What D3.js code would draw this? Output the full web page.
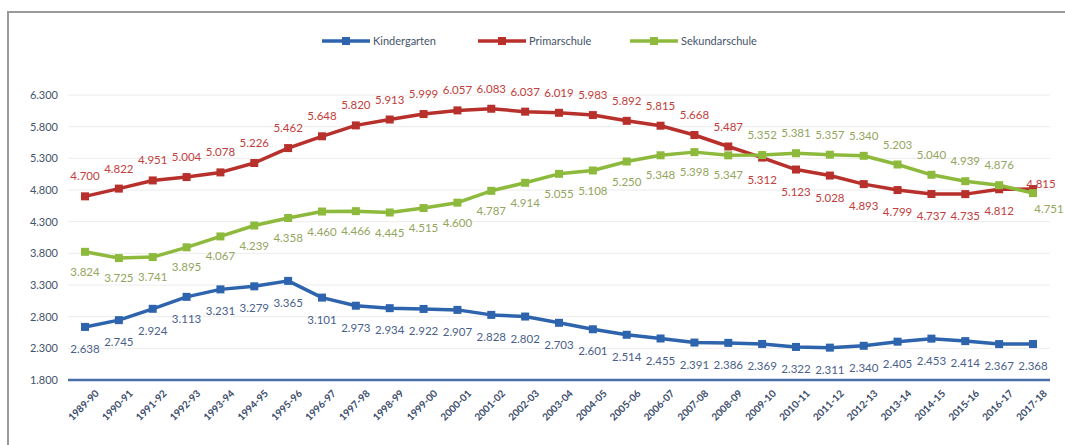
<html>
<head>
<title>Schüler</title>
<script src="https://d3js.org/d3.v7.min.js" charset="utf-8"></script>
<style>
body { margin: 0; background: white; font-family: "Lato", "Open Sans", sans-serif; }
</style>
</head>
<body>
<script>
// school years
var years = ["1989-90","1990-91","1991-92","1992-93","1993-94","1994-95","1995-96","1996-97","1997-98","1998-99",
  "1999-00","2000-01","2001-02","2002-03","2003-04","2004-05","2005-06","2006-07","2007-08","2008-09",
  "2009-10","2010-11","2011-12","2012-13","2013-14","2014-15","2015-16","2016-17","2017-18"];

var kindergarten = [2638,2745,2924,3113,3231,3279,3365,3101,2973,2934,2922,2907,2828,2802,2703,2601,2514,2455,2391,2386,2369,2322,2311,2340,2405,2453,2414,2367,2368];
var primarschule = [4700,4822,4951,5004,5078,5226,5462,5648,5820,5913,5999,6057,6083,6037,6019,5983,5892,5815,5668,5487,5312,5123,5028,4893,4799,4737,4735,4812,4815];
var sekundarschule = [3824,3725,3741,3895,4067,4239,4358,4460,4466,4445,4515,4600,4787,4914,5055,5108,5250,5348,5398,5347,5352,5381,5357,5340,5203,5040,4939,4876,4751];

var yTicks = [1800,2300,2800,3300,3800,4300,4800,5300,5800,6300];

var series = [
  { name: "Kindergarten", values: kindergarten, color: "#2e64ad", label: "#4a5f8a" },
  { name: "Primarschule", values: primarschule, color: "#b8302b", label: "#c0403c" },
  { name: "Sekundarschule", values: sekundarschule, color: "#8dba3c", label: "#93a55e" }
];

var width = 1065, height = 445;
var svg = d3.select("body").append("svg").attr("width", width).attr("height", height);

// frame
svg.append("rect").attr("x", 8).attr("y", 12).attr("width", 1070).attr("height", 440)
  .attr("fill", "none").attr("stroke", "#9a9a9a").attr("stroke-width", 2);

var x = d3.scalePoint().domain(years).range([85, 1033]);
var y = d3.scaleLinear().domain([1800, 6300]).range([380, 95]);

// gridlines
svg.append("g").selectAll("line").data(yTicks.slice(1)).enter().append("line")
  .attr("x1", 68).attr("x2", 1050)
  .attr("y1", function(d){ return y(d); }).attr("y2", function(d){ return y(d); })
  .attr("stroke", "#ececec").attr("stroke-width", 1);

// y axis labels
var yAxis = svg.append("g").attr("transform", "translate(58,0)")
  .call(d3.axisLeft(y).tickValues(yTicks).tickSize(0).tickPadding(0)
    .tickFormat(function(d){ return d3.format(".3f")(d / 1000); }));
yAxis.select(".domain").remove();
yAxis.selectAll("text").attr("fill", "#44546a").attr("font-size", "11px").attr("font-family", "Lato");

// x axis
var xAxis = svg.append("g").attr("transform", "translate(0,380)")
  .call(d3.axisBottom(x).tickSize(0).tickPadding(0));
xAxis.select(".domain").remove();
xAxis.selectAll("text")
  .attr("fill", "#3b4c6b").attr("font-size", "10px").attr("font-weight", "bold").attr("font-family", "Lato")
  .attr("text-anchor", "end").attr("dy", "0.3em")
  .attr("transform", "translate(12,12) rotate(-45)");

svg.append("line").attr("x1", 68).attr("x2", 1050).attr("y1", y(1800)).attr("y2", y(1800))
  .attr("stroke", "#4a6ea8").attr("stroke-width", 2.5);

var line = d3.line().x(function(d, i){ return x(years[i]); }).y(function(d){ return y(d); });

// label placement: above or below the point
function labelPos(s, i) {
  if (s.name == "Kindergarten") return { dx: 0, dy: 22 };
  if (s.name == "Primarschule") {
    if (i == 28) return { dx: 8, dy: -5 };
    return i < 20 ? { dx: 0, dy: -20 } : { dx: 0, dy: 22 };
  }
  if (i == 28) return { dx: 16, dy: 16 };
  return (i >= 20) ? { dx: 0, dy: -20 } : { dx: 0, dy: 20 };
}

series.forEach(function(s) {
  var g = svg.append("g");
  g.append("path").datum(s.values).attr("d", line)
    .attr("fill", "none").attr("stroke", s.color).attr("stroke-width", 3.5).attr("stroke-linejoin", "round");
  g.selectAll("rect").data(s.values).enter().append("rect")
    .attr("x", function(d, i){ return x(years[i]) - 4; })
    .attr("y", function(d){ return y(d) - 4; })
    .attr("width", 8).attr("height", 8).attr("fill", s.color);
});

series.forEach(function(s) {
  svg.append("g").selectAll("text").data(s.values).enter().append("text")
    .attr("x", function(d, i){ return x(years[i]) + labelPos(s, i).dx; })
    .attr("y", function(d, i){ return y(d) + labelPos(s, i).dy; })
    .attr("dy", "0.35em").attr("text-anchor", "middle")
    .attr("font-size", "11.5px").attr("fill", s.label)
    .text(function(d){ return d3.format(".3f")(d / 1000); });
});

// legend
var legend = svg.append("g").attr("transform", "translate(0,41)");
var lx = [322, 478, 630];
series.forEach(function(s, i) {
  var lg = legend.append("g").attr("transform", "translate(" + lx[i] + ",0)");
  lg.append("line").attr("x1", 0).attr("x2", 48).attr("stroke", s.color).attr("stroke-width", 3.5);
  lg.append("rect").attr("x", 20).attr("y", -4).attr("width", 8).attr("height", 8).attr("fill", s.color);
  lg.append("text").attr("x", 51).attr("dy", "0.35em").attr("font-size", "11px").attr("fill", "#44546a")
    .text(s.name);
});
</script>
</body>
</html>
